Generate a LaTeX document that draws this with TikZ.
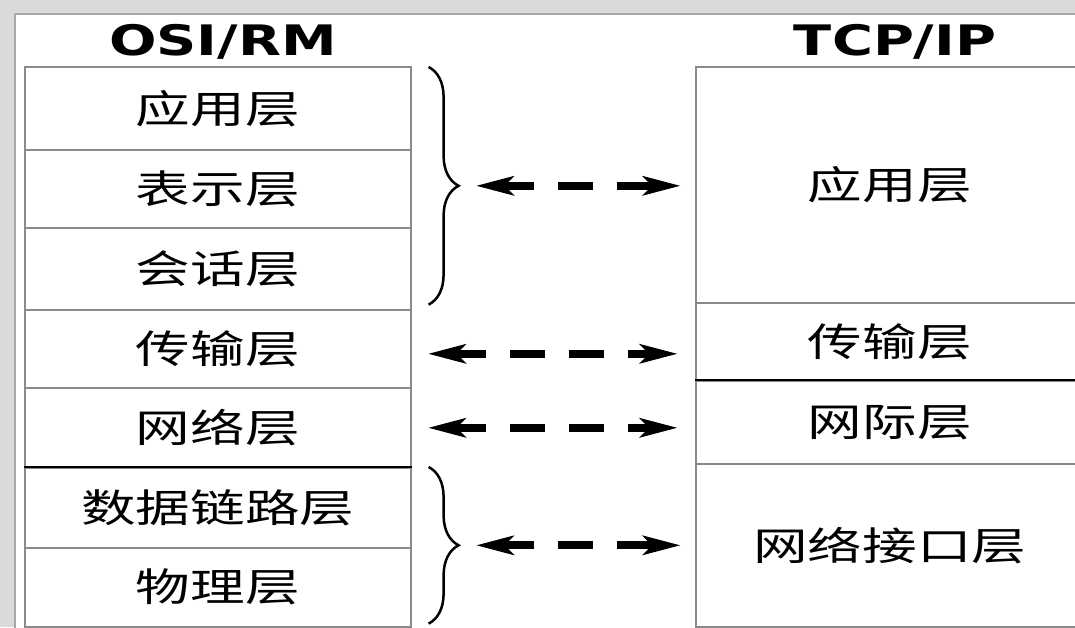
\documentclass[tikz,border=0pt]{standalone}
\usepackage{fontspec}
\usepackage{graphicx}
\newfontfamily\cjk{Noto Sans CJK SC}
\newfontfamily\ttlfont{DejaVu Sans}
\usetikzlibrary{arrows.meta,decorations.pathreplacing}
\definecolor{bggray}{HTML}{DADADA}
\definecolor{linegray}{HTML}{8A8A8A}
\definecolor{panelgray}{HTML}{A8A8A8}
\newcommand{\cnx}[1]{\scalebox{1.4}[1]{#1}}
\tikzset{
  cell/.style={draw=linegray, line width=1.6pt, inner sep=0pt, anchor=north west,
    font=\cjk\fontsize{39}{39}\selectfont},
  lcell/.style={cell, minimum width=386pt},
  rcell/.style={cell, minimum width=388pt},
  ttl/.style={font=\ttlfont\bfseries\fontsize{42}{42}\selectfont, anchor=base, inner sep=0pt},
  dline/.style={line width=2pt, black},
  tipx/.tip={Stealth[length=38pt,width=20pt,inset=10pt,line width=1pt]},
  arr/.style={line width=8pt, black, dash pattern=on 35pt off 24pt, dash phase=5pt, tipx-tipx},
  brc/.style={decorate, decoration={brace, amplitude=30pt}, line width=2.5pt}
}
\begin{document}
\begin{tikzpicture}[x=1pt,y=-1pt]
\useasboundingbox (0,0) rectangle (1075,627);
\fill[bggray] (0,0) rectangle (1075,627);
\draw[fill=white, draw=panelgray, line width=1.5pt] (15,14) rectangle (1100,650);

% titles
\node[ttl] (osi) at (223,55) {\scalebox{1.33}[1]{OSI/RM}};
\node[ttl] (tcp) at (895,55) {\scalebox{1.33}[1]{TCP/IP}};

% left stack
\node[lcell, minimum height=83pt] (l1) at (24,66) {\cnx{应用层}};
\node[lcell, minimum height=78pt] (l2) at (24,149) {\cnx{表示层}};
\node[lcell, minimum height=82pt] (l3) at (24,227) {\cnx{会话层}};
\node[lcell, minimum height=78pt] (l4) at (24,309) {\cnx{传输层}};
\node[lcell, minimum height=80pt] (l5) at (24,387) {\cnx{网络层}};
\node[lcell, minimum height=80pt] (l6) at (24,467) {\cnx{数据链路层}};
\node[lcell, minimum height=79pt] (l7) at (24,547) {\cnx{物理层}};

% right stack
\node[rcell, minimum height=236pt] (r1) at (695,66) {\cnx{应用层}};
\node[rcell, minimum height=78pt] (r2) at (695,302) {\cnx{传输层}};
\node[rcell, minimum height=83pt] (r3) at (695,380) {\cnx{网际层}};
\node[rcell, minimum height=163pt] (r4) at (695,463) {\cnx{网络接口层}};

% darker separators
\draw[dline] (l6.north west) -- (l6.north east);
\draw[dline] (r3.north west) -- (r3.north east);

% braces
\draw[brc] ([xshift=17pt,yshift=-1pt]l1.north east) -- ([xshift=17pt,yshift=6pt]l3.south east);
\draw[brc] ([xshift=17pt]l6.north east) -- ([xshift=17pt,yshift=4pt]l7.south east);
\path ([xshift=47pt,yshift=-1pt]l1.north east) -- ([xshift=47pt,yshift=6pt]l3.south east)
  coordinate[pos=0.5] (tip1);
\path ([xshift=47pt]l6.north east) -- ([xshift=47pt,yshift=4pt]l7.south east)
  coordinate[pos=0.5] (tip2);
\coordinate (a4) at ([yshift=-5pt]l4.east);

% arrows
\draw[arr, shorten <=18pt, shorten >=15pt] (tip1) -- (tip1 -| r1.west);
\draw[arr, shorten <=17pt, shorten >=18pt] (a4) -- (a4 -| r2.west);
\draw[arr, shorten <=17pt, shorten >=18pt] (l5.east) -- (l5.east -| r3.west);
\draw[arr, shorten <=18pt, shorten >=15pt] (tip2) -- (tip2 -| r4.west);
\end{tikzpicture}
\end{document}
